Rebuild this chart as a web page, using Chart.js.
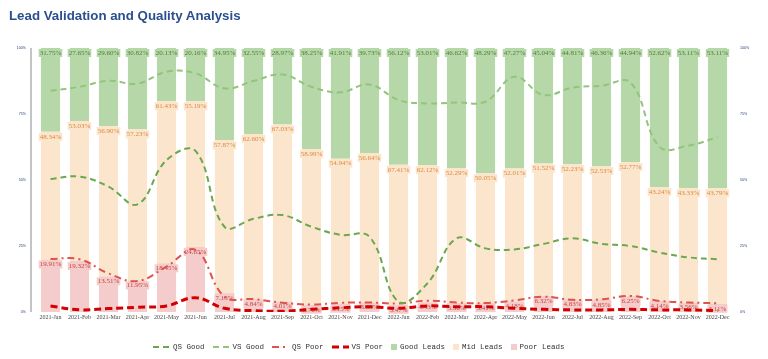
<!DOCTYPE html>
<html>
<head>
<meta charset="utf-8">
<title>Lead Validation and Quality Analysis</title>
<script src="https://cdn.jsdelivr.net/npm/chart.js@4.4.1/dist/chart.umd.min.js"></script>
<style>
  html, body { margin: 0; padding: 0; background: #fff; }
  #wrap { position: relative; width: 768px; height: 359px; overflow: hidden; }
  #chart { position: absolute; left: 0; top: 0; }
  #title { position: absolute; left: 9px; top: 8px; margin: 0; font: bold 13.3px "Liberation Sans", Arial, sans-serif; color: #2b4f8e; }
  #legend { position: absolute; left: 153px; top: 342px; height: 10px; display: flex; align-items: center; font: 7.5px "Liberation Mono", monospace; color: #333; white-space: nowrap; }
  .item { display: flex; align-items: center; margin-right: 8px; }
  .item svg, .item .box { margin-right: 3px; }
  .box { display: inline-block; width: 6px; height: 6px; }
</style>
</head>
<body>
<div id="wrap">
  <canvas id="chart" width="768" height="359"></canvas>
  <h1 id="title">Lead Validation and Quality Analysis</h1>
  <div id="legend"></div>
</div>
<script>
// categories
const months = ['2021-Jan', '2021-Feb', '2021-Mar', '2021-Apr', '2021-May', '2021-Jun',
  '2021-Jul', '2021-Aug', '2021-Sep', '2021-Oct', '2021-Nov', '2021-Dec',
  '2022-Jan', '2022-Feb', '2022-Mar', '2022-Apr', '2022-May', '2022-Jun',
  '2022-Jul', '2022-Aug', '2022-Sep', '2022-Oct', '2022-Nov', '2022-Dec'];

// lead shares (%), as labelled on the bars
const goodLeads = [31.75, 27.65, 29.60, 30.82, 20.13, 20.16, 34.95, 32.55, 28.97, 38.25, 41.91, 39.73,
  56.12, 53.01, 46.62, 48.29, 47.27, 45.04, 44.81, 46.36, 44.94, 52.62, 53.11, 53.11];
const midLeads = [48.34, 53.03, 56.90, 57.23, 61.43, 55.19, 57.87, 62.60, 67.03, 58.99, 54.94, 56.64,
  67.41, 62.12, 52.29, 50.05, 52.01, 51.52, 52.23, 52.53, 52.77, 43.24, 43.33, 43.79];
const poorLeads = [19.91, 19.32, 13.51, 11.95, 18.45, 24.65, 7.18, 4.84, 4.01, 2.76, 3.15, 3.63,
  3.47, 4.43, 3.56, 3.41, 4.18, 6.32, 4.83, 4.85, 6.25, 4.14, 3.56, 3.11];

// score lines (%)
const qsGood = [50.4, 51.3, 47.5, 40.8, 57.5, 61.0, 32.3, 35.3, 36.7, 32.3, 29.2, 28.5,
  3.9, 10.9, 27.9, 24.1, 23.7, 25.8, 27.9, 25.8, 25.0, 22.5, 20.7, 20.0];
const vsGood = [83.8, 85.3, 87.6, 86.5, 91.0, 90.4, 84.7, 87.5, 90.0, 85.3, 83.2, 86.2,
  80.3, 79.0, 79.4, 79.7, 89.1, 82.2, 85.0, 85.7, 86.9, 62.6, 63.0, 66.2];
const qsPoor = [20.1, 20.0, 14.6, 11.7, 17.2, 23.5, 5.8, 4.9, 3.5, 2.8, 3.5, 3.6,
  3.2, 4.3, 3.6, 3.4, 4.4, 5.8, 4.6, 4.8, 6.1, 4.2, 3.6, 3.3];
const vsPoor = [2.3, 0.8, 1.3, 1.8, 2.3, 5.4, 1.4, 0.5, 0.3, 1.0, 1.6, 2.0,
  1.4, 2.3, 2.0, 2.0, 1.4, 1.0, 0.8, 0.8, 1.0, 0.8, 0.8, 0.5];

const yTicks = [0, 25, 50, 75, 100];

// bars are drawn as 100% stacked, so normalise each month
const share = arr => arr.map((v, i) => v / (goodLeads[i] + midLeads[i] + poorLeads[i]) * 100);

const lineSeries = [
  { label: 'QS Good', data: qsGood, color: '#6aa84f', width: 2, dash: [6, 4] },
  { label: 'VS Good', data: vsGood, color: '#93c47d', width: 2, dash: [6, 4] },
  { label: 'QS Poor', data: qsPoor, color: '#e0524a', width: 2, dash: [7, 4, 2, 4] },
  { label: 'VS Poor', data: vsPoor, color: '#d40000', width: 3, dash: [7, 4] }
];
const barSeries = [
  { label: 'Good Leads', raw: goodLeads, color: '#b6d7a8', text: '#4f7f37' },
  { label: 'Mid Leads', raw: midLeads, color: '#fce5cd', text: '#d98a3a' },
  { label: 'Poor Leads', raw: poorLeads, color: '#f4cccc', text: '#c8453c' }
];

const datasets = [];
lineSeries.forEach(s => {
  datasets.push({
    type: 'line', label: s.label, data: s.data, yAxisID: 'y2', order: 0,
    borderColor: s.color, borderWidth: s.width, borderDash: s.dash,
    pointRadius: 0, fill: false, tension: 0.4
  });
});
// stack from the bottom: poor, mid, good
barSeries.slice().reverse().forEach(s => {
  datasets.push({
    type: 'bar', label: s.label, data: share(s.raw), yAxisID: 'y', order: 1, stack: 'leads',
    backgroundColor: s.color, borderWidth: 0, barPercentage: 0.66, categoryPercentage: 1
  });
});

// value labels at the top of each bar segment, drawn before the lines
const barLabels = {
  id: 'barLabels',
  beforeDatasetsDraw(chart) { chart.$labelsDone = false; },
  beforeDatasetDraw(chart, args) {
    if (args.meta.type !== 'line' || chart.$labelsDone) return;
    chart.$labelsDone = true;
    const ctx = chart.ctx;
    ctx.save();
    ctx.font = '7px "Liberation Serif", serif';
    ctx.textAlign = 'center';
    ctx.textBaseline = 'middle';
    barSeries.forEach(s => {
      const idx = chart.data.datasets.findIndex(d => d.label === s.label);
      chart.getDatasetMeta(idx).data.forEach((bar, i) => {
        const txt = s.raw[i].toFixed(2) + '%';
        const w = ctx.measureText(txt).width + 2;
        const y = bar.y + 5;
        ctx.fillStyle = s.color;
        ctx.fillRect(bar.x - w / 2, y - 4, w, 8);
        ctx.fillStyle = s.text;
        ctx.fillText(txt, bar.x, y);
      });
    });
    ctx.restore();
  }
};

// grey left axis rule
const axisRule = {
  id: 'axisRule',
  afterDraw(chart) {
    const a = chart.chartArea;
    const ctx = chart.ctx;
    ctx.save();
    ctx.strokeStyle = '#c4c4c4';
    ctx.lineWidth = 2;
    ctx.beginPath();
    ctx.moveTo(a.left - 5, a.top);
    ctx.lineTo(a.left - 5, a.bottom);
    ctx.stroke();
    ctx.restore();
  }
};

const pctTicks = {
  stepSize: 25,
  callback: v => yTicks.includes(v) ? v + '%' : '',
  font: { family: 'Liberation Sans', size: 3.6 },
  color: '#1f3f73'
};

new Chart(document.getElementById('chart'), {
  data: { labels: months, datasets: datasets },
  options: {
    responsive: false,
    animation: false,
    layout: { padding: { top: 48, bottom: 27, left: 0, right: 0 } },
    plugins: { legend: { display: false }, tooltip: { enabled: false }, title: { display: false } },
    scales: {
      x: {
        stacked: true,
        offset: true,
        grid: { display: false, drawTicks: false },
        border: { display: false },
        ticks: { font: { family: 'Liberation Serif', size: 6 }, color: '#444', maxRotation: 0, autoSkip: false, padding: 2 },
        afterFit: s => { s.height = 20; }
      },
      y: {
        stacked: true, position: 'left', min: 0, max: 100,
        grid: { display: false, drawTicks: false },
        border: { display: false },
        ticks: Object.assign({ padding: 10 }, pctTicks),
        afterFit: s => { s.width = 36; }
      },
      y2: {
        position: 'right', min: 0, max: 100,
        grid: { display: false, drawTicks: false },
        border: { display: false },
        ticks: Object.assign({ padding: 8 }, pctTicks),
        afterFit: s => { s.width = 36; }
      }
    }
  },
  plugins: [barLabels, axisRule]
});

// legend
const legend = document.getElementById('legend');
lineSeries.forEach(s => {
  const item = document.createElement('span');
  item.className = 'item';
  item.innerHTML = '<svg width="17" height="6"><line x1="0" y1="3" x2="17" y2="3" stroke="' + s.color +
    '" stroke-width="' + s.width + '" stroke-dasharray="' + s.dash.join(' ') + '"/></svg>';
  item.appendChild(document.createTextNode(s.label));
  legend.appendChild(item);
});
barSeries.forEach(s => {
  const item = document.createElement('span');
  item.className = 'item';
  item.innerHTML = '<span class="box" style="background:' + s.color + '"></span>';
  item.appendChild(document.createTextNode(s.label));
  legend.appendChild(item);
});
</script>
</body>
</html>
